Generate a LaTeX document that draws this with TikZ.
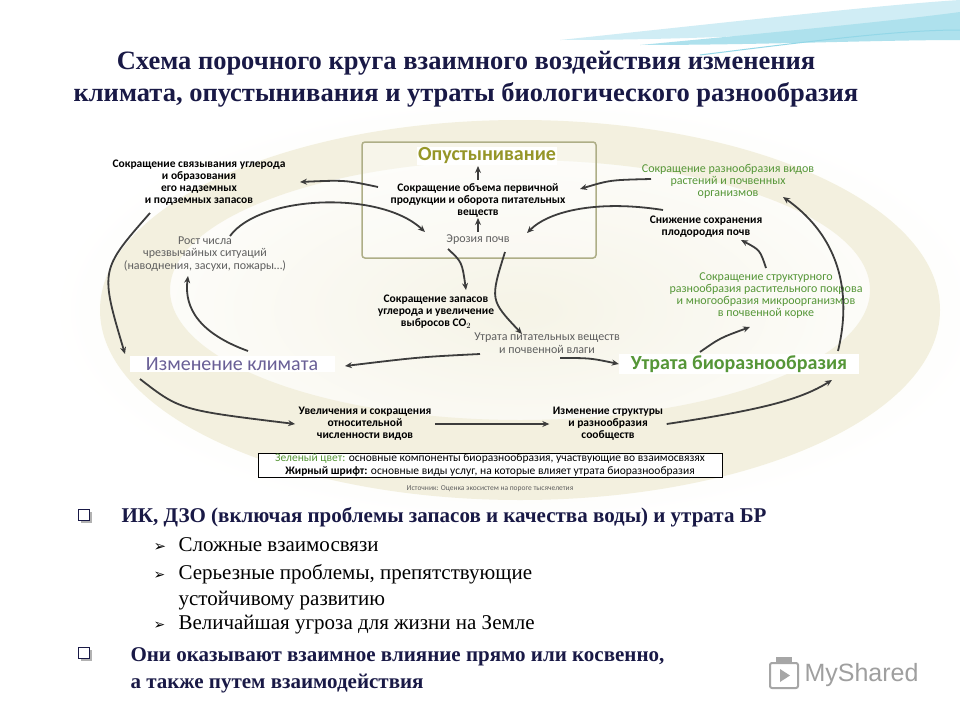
\documentclass[tikz,border=0pt]{standalone}
\usepackage{fontspec}
\setmainfont{Liberation Serif}
\newfontfamily\dg{Carlito}
\newfontfamily\djv{DejaVu Sans}
\usetikzlibrary{arrows.meta}
\definecolor{bgc}{RGB}{228,222,185}
\definecolor{grn}{RGB}{85,150,55}
\definecolor{olv}{RGB}{150,150,40}
\definecolor{prp}{RGB}{105,95,150}
\definecolor{gry}{RGB}{95,95,95}
\definecolor{arr}{RGB}{60,60,60}
\definecolor{navy}{RGB}{25,25,70}
\definecolor{cy}{RGB}{120,205,225}
\begin{document}
\begin{tikzpicture}[x=1pt,y=-1pt,
  bk/.style={font=\dg\bfseries\fontsize{11.5}{12}\selectfont,align=center,text=black},
  gr/.style={font=\dg\fontsize{12}{12.5}\selectfont,align=center,text=gry},
  gn/.style={font=\dg\fontsize{12}{12}\selectfont,align=center,text=grn},
  ar/.style={-{Stealth[length=7pt,width=6pt]},line width=1.8pt,draw=arr},
  big/.style={font=\dg\fontsize{20}{22}\selectfont,fill=white,inner sep=2pt},
  bl/.style={font=\fontsize{21}{23}\selectfont,anchor=base west},
  bb/.style={font=\bfseries\fontsize{21}{23}\selectfont,anchor=base west,text=navy}]
\fill[white] (0,0) rectangle (960,720);
\useasboundingbox (0,0) rectangle (960,720);
% top swoosh
\fill[cy!35] (560,40) .. controls (750,20) and (880,5) .. (960,0) -- (960,25) .. controls (860,30) and (720,40) .. (560,40);
\fill[cy!60] (640,45) .. controls (800,30) and (900,20) .. (960,12) -- (960,40) .. controls (880,40) and (760,45) .. (640,45);
\draw[cy!80,line width=1pt] (700,55) .. controls (820,40) and (900,30) .. (960,30);
% background glow
\shade[inner color=bgc!35,outer color=white] (520,310) ellipse (470 and 215);
\fill[bgc!45,even odd rule] (520,310) ellipse (420 and 190) (520,290) ellipse (350 and 130);
% title
\node[font=\bfseries\fontsize{26.5}{32}\selectfont,align=center,text=navy] (title) at (466,79) {Схема порочного круга взаимного воздействия изменения\\климата, опустынивания и утраты биологического разнообразия};
% desertification box
\draw[draw=olv!50!gray!70,line width=1.5pt,rounded corners=3pt,fill=white,fill opacity=0.35] (362,142) rectangle (596,258);
\node[font=\dg\bfseries\fontsize{20}{22}\selectfont,text=olv,fill=white,inner sep=1pt] (des) at (487,156) {Опустынивание};
% texts
\node[bk] (t1) at (199,183) {Сокращение связывания углерода\\и образования\\его надземных\\и подземных запасов};
\node[bk] (t2) at (478,200) {Сокращение объема первичной\\продукции и оборота питательных\\веществ};
\node[gr] (t3) at (478,240) {Эрозия почв};
\node[gr] (t4) at (205,254) {Рост числа\\чрезвычайных ситуаций\\(наводнения, засухи, пожары\dots)};
\node[bk] (t5) at (436,312) {Сокращение запасов\\углерода и увеличение\\выбросов CO$_2$};
\node[gr] (t6) at (547,343) {Утрата питательных веществ\\и почвенной влаги};
\node[gn] (t7) at (728,181) {Сокращение разнообразия видов\\растений и почвенных\\организмов};
\node[bk] (t8) at (706,227) {Снижение сохранения\\плодородия почв};
\node[gn] (t9) at (766,296) {Сокращение структурного\\разнообразия растительного покрова\\и многообразия микроорганизмов\\в почвенной корке};
\node[big,text=prp,minimum width=205pt] (cc) at (232,364) {Изменение климата};
\node[big,text=grn,font=\dg\bfseries\fontsize{20}{22}\selectfont,minimum width=240pt] (bl) at (739,364) {Утрата биоразнообразия};
\node[bk] (t10) at (365,424) {Увеличения и сокращения\\относительной\\численности видов};
\node[bk] (t11) at (608,424) {Изменение структуры\\и разнообразия\\сообществ};
\node[draw=black,line width=0.6pt,fill=white,font=\dg\fontsize{11.5}{12.5}\selectfont,align=center,inner sep=1pt,minimum width=464pt] (leg) at (490,465)
 {\textcolor{grn}{Зеленый цвет:} основные компоненты биоразнообразия, участвующие во взаимосвязях\\\textbf{Жирный шрифт:} основные виды услуг, на которые влияет утрата биоразнообразия};
\node[font=\dg\fontsize{7.5}{8}\selectfont,text=gry] (src) at (490,489) {Источник: Оценка экосистем на пороге тысячелетия};
% named coordinates
\coordinate (p1) at (300,182);
\coordinate (p2) at (125,354);
\coordinate (p3) at (425,232);
\coordinate (p4) at (345,366);
% arrows
\draw[ar] (378,187) .. controls (345,180) .. (p1);
\draw[ar] (150,213) .. controls (100,270) .. (p2);
\draw[ar] (248,351) .. controls (190,330) and (185,300) .. (188,276);
\draw[ar] (230,236) .. controls (260,195) and (380,190) .. (p3);
\draw[ar] (448,249) .. controls (462,262) .. (466,290);
\draw[ar] (t3.north) -- (478,218);
\draw[ar] (t2.north) -- (478,166);
\draw[ar] (505,252) .. controls (490,300) .. (522,334);
\draw[ar] (480,354) .. controls (420,357) .. (p4);
\draw[ar] (560,358) .. controls (590,358) .. (bl.west);
\draw[ar] (700,352) .. controls (720,338) .. (750,327);
\draw[ar] (766,268) .. controls (760,250) .. (741,240);
\draw[ar] (663,210) .. controls (600,200) and (550,210) .. (527,233);
\draw[ar] (651,179) .. controls (610,180) .. (580,189);
\draw[ar] (838,351) .. controls (855,280) and (830,230) .. (783,197);
\draw[ar] (140,379) .. controls (180,410) .. (t10.west);
\draw[ar] (t10.east) -- (t11.west);
\draw[ar] (t11.east) .. controls (760,410) and (800,400) .. (832,380);
% bullets
\foreach \yy in {516,654}{
 \fill[gray!60] (81,\yy-4) rectangle (92,\yy+7);
 \draw[navy,line width=0.9pt,fill=white] (78,\yy-7) rectangle (89,\yy+4);}
\node[bb] (b1) at (118,522) {ИК, ДЗО (включая проблемы запасов и качества воды) и утрата БР};
\node[font=\djv\fontsize{15}{16}\selectfont,anchor=base west] (a1) at (150,551) {➢};
\node[bl] (b2) at (175,551) {Сложные взаимосвязи};
\node[font=\djv\fontsize{14}{14}\selectfont,anchor=base west] (a2) at (150,579) {➢};
\node[bl] (b3) at (175,579) {Серьезные проблемы, препятствующие};
\node[bl] (b3b) at (175,605) {устойчивому развитию};
\node[font=\djv\fontsize{14}{14}\selectfont,anchor=base west] (a3) at (150,629) {➢};
\node[bl] (b4) at (175,629) {Величайшая угроза для жизни на Земле};
\node[bb] (b5) at (127,661) {Они оказывают взаимное влияние прямо или косвенно,};
\node[bb] (b6) at (127,688) {а также путем взаимодействия};
% logo
\draw[gray!70,line width=2pt,rounded corners=2pt] (770,663) rectangle (798,688);
\fill[gray!70] (776,657) rectangle (792,663);
\fill[gray!70] (780,669) -- (790,675.5) -- (780,682) -- cycle;
\node[font=\fontspec{Liberation Sans}\fontsize{25}{26}\selectfont,text=gray!75,anchor=west] (lg) at (801,675) {MyShared};
\end{tikzpicture}
\end{document}
